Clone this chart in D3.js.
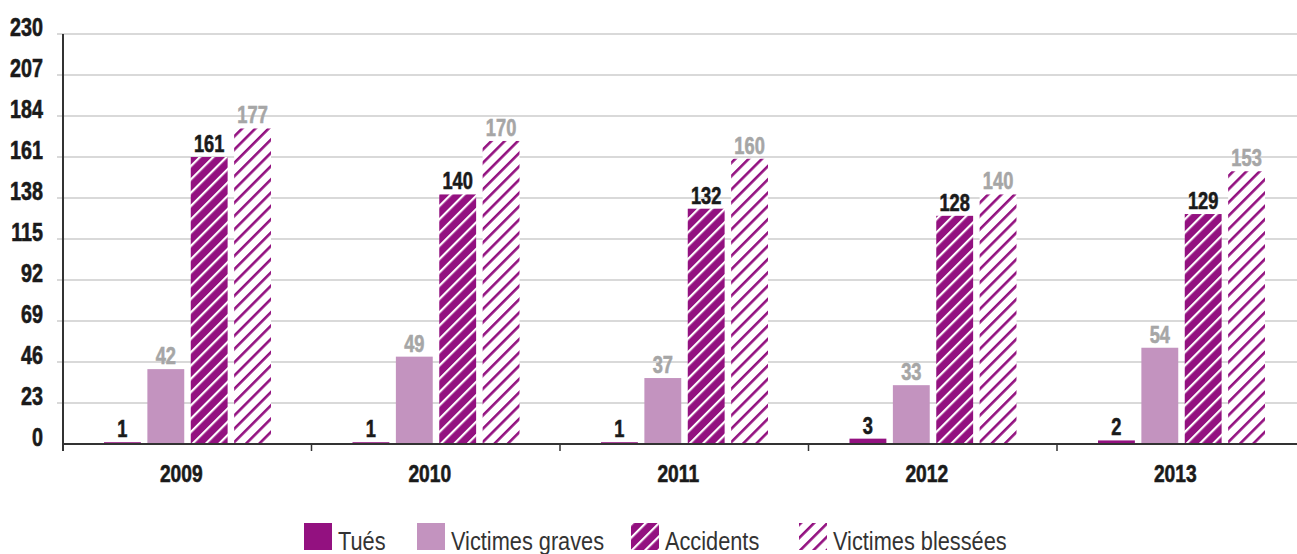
<!DOCTYPE html>
<html>
<head>
<meta charset="utf-8">
<script src="https://cdn.jsdelivr.net/npm/d3@7"></script>
<style>
  body { margin: 0; background: #fff; }
  svg { display: block; }
</style>
</head>
<body>
<div id="chart"></div>
<script>
let years = ["2009", "2010", "2011", "2012", "2013"];
let series = ["Tués", "Victimes graves", "Accidents", "Victimes blessées"];
let tues = [1, 1, 1, 3, 2];
let graves = [42, 49, 37, 33, 54];
let accidents = [161, 140, 132, 128, 129];
let blessees = [177, 170, 160, 140, 153];
let yTicks = [0, 23, 46, 69, 92, 115, 138, 161, 184, 207, 230];

let width = 1297;
let height = 554;
let purple = "#931180";
let lilac = "#c393bf";

let svg = d3.select("#chart")
	.append("svg")
	.attr("width", width)
	.attr("height", height)
	.style("background-color", "white");

// hatch patterns
let defs = svg.append("defs");
let p1 = defs.append("pattern")
	.attr("id", "hatchDark")
	.attr("patternUnits", "userSpaceOnUse")
	.attr("width", 9.4).attr("height", 9.4)
	.attr("patternTransform", "rotate(45)");
p1.append("rect").attr("width", 9.4).attr("height", 9.4).attr("fill", purple);
p1.append("rect").attr("x", 0).attr("width", 2.2).attr("height", 9.4).attr("fill", "white");

let p2 = defs.append("pattern")
	.attr("id", "hatchLight")
	.attr("patternUnits", "userSpaceOnUse")
	.attr("width", 9.4).attr("height", 9.4)
	.attr("patternTransform", "rotate(45)");
p2.append("rect").attr("width", 9.4).attr("height", 9.4).attr("fill", "white");
p2.append("rect").attr("x", 0).attr("width", 2.6).attr("height", 9.4).attr("fill", purple);

let fills = [purple, lilac, "url(#hatchDark)", "url(#hatchLight)"];
let labelColors = ["#1a1a1a", "#a6a6a6", "#1a1a1a", "#a6a6a6"];

let x0 = d3.scaleBand().domain(years).range([63, 63 + 5 * 248.5]).padding(0);
let x1 = d3.scaleBand().domain(series).range([41, 208]).paddingInner(0.15);
let y = d3.scaleLinear().domain([0, 230]).range([444, 34]);

let numFont = "'Liberation Sans', Arial, sans-serif";

function squeeze(px, py, sx) {
	return "translate(" + px + "," + py + ") scale(" + sx + ",1)";
}

// grid lines
svg.append("g").selectAll("line")
	.data(yTicks.filter(function(d){return d > 0;}))
	.enter().append("line")
	.attr("x1", 57).attr("x2", width)
	.attr("y1", function(d){return y(d);})
	.attr("y2", function(d){return y(d);})
	.attr("stroke", "#b3b3b3")
	.attr("stroke-width", 1.2);

// y tick labels
svg.append("g").selectAll("text")
	.data(yTicks)
	.enter().append("text")
	.attr("transform", function(d){return squeeze(43, y(d) + 2, 0.79);})
	.attr("text-anchor", "end")
	.style("font-family", numFont)
	.style("font-weight", "bold")
	.style("font-size", "25px")
	.style("fill", "#1a1a1a")
	.style("stroke", "#1a1a1a")
	.style("stroke-width", 0.6)
	.text(function(d){return d;});

let rows = years.map(function(yr, i){
	return {year: yr, values: [tues[i], graves[i], accidents[i], blessees[i]]};
});

let groups = svg.append("g").selectAll("g")
	.data(rows)
	.enter().append("g")
	.attr("transform", function(d){return "translate(" + x0(d.year) + ",0)";});

groups.selectAll("rect")
	.data(function(d){return d.values.map(function(v, j){return {key: series[j], value: v, j: j};});})
	.enter().append("rect")
	.attr("x", function(d){return x1(d.key);})
	.attr("y", function(d){return y(d.value);})
	.attr("width", x1.bandwidth())
	.attr("height", function(d){return y(0) - y(d.value);})
	.attr("fill", function(d){return fills[d.j];});

groups.selectAll("text")
	.data(function(d){return d.values.map(function(v, j){return {key: series[j], value: v, j: j};});})
	.enter().append("text")
	.attr("transform", function(d){return squeeze(x1(d.key) + x1.bandwidth() / 2, y(d.value) - 5, 0.76);})
	.attr("text-anchor", "middle")
	.style("font-family", numFont)
	.style("font-weight", "bold")
	.style("font-size", "24px")
	.style("fill", function(d){return labelColors[d.j];})
	.style("stroke", function(d){return labelColors[d.j];})
	.style("stroke-width", 0.6)
	.text(function(d){return d.value;});

// axes
svg.append("line")
	.attr("x1", 63).attr("x2", width)
	.attr("y1", y(0)).attr("y2", y(0))
	.attr("stroke", "#333").attr("stroke-width", 2);
svg.append("line")
	.attr("x1", 63).attr("x2", 63)
	.attr("y1", y(230)).attr("y2", 451)
	.attr("stroke", "#333").attr("stroke-width", 2);

svg.append("g").selectAll("line")
	.data(years.slice(1))
	.enter().append("line")
	.attr("x1", function(d){return x0(d);})
	.attr("x2", function(d){return x0(d);})
	.attr("y1", y(0)).attr("y2", 451)
	.attr("stroke", "#333").attr("stroke-width", 1.5);

// year labels
svg.append("g").selectAll("text")
	.data(years)
	.enter().append("text")
	.attr("transform", function(d){return squeeze(x0(d) + x0.bandwidth() / 2 - 6, 482, 0.8);})
	.attr("text-anchor", "middle")
	.style("font-family", numFont)
	.style("font-weight", "bold")
	.style("font-size", "24px")
	.style("fill", "#1a1a1a")
	.style("stroke", "#1a1a1a")
	.style("stroke-width", 0.6)
	.text(function(d){return d;});

// legend
let legendX = [304, 417, 631, 799];
let legend = svg.append("g").selectAll("g")
	.data(series)
	.enter().append("g")
	.attr("transform", function(d, i){return "translate(" + legendX[i] + ",523)";});

legend.append("rect")
	.attr("width", 28)
	.attr("height", 27)
	.attr("fill", function(d, i){return fills[i];});

legend.append("text")
	.attr("transform", squeeze(34, 27, 0.87))
	.style("font-family", numFont)
	.style("font-size", "25px")
	.style("fill", "#333")
	.text(function(d){return d;});
</script>
</body>
</html>
